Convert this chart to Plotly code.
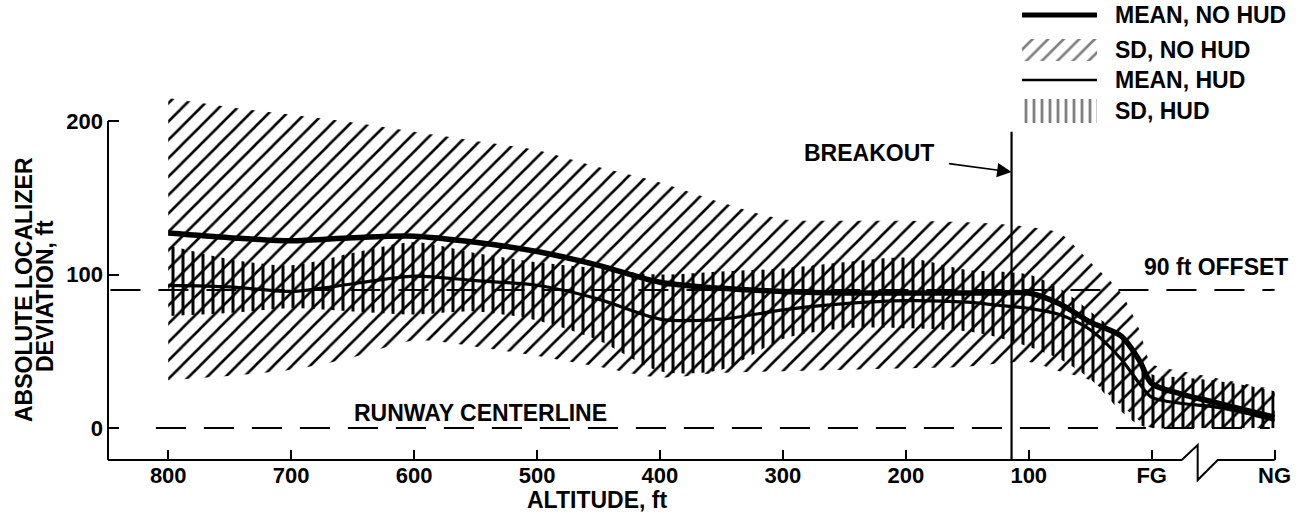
import plotly.graph_objects as go

# ---------------- data ----------------
ALT = [800, 750, 700, 650, 600, 550, 500, 450, 400, 350, 300, 250, 200,
       150, 125, 100, 75, 50, 25, 10, 0, -25, -50, -75, -100]
NOHUD_MEAN = [127, 124, 122, 124, 125, 121, 115, 106, 95, 91, 89, 88, 88,
              88, 88, 88, 81, 69, 60, 44, 29, 22, 17, 12, 7]
NOHUD_SD_HI = [215, 209, 204, 199, 193, 187, 181, 170, 160, 147, 136, 135, 135,
               134, 133, 131, 127, 108, 88, 64, 42, 37, 33, 29, 25]
NOHUD_SD_LO = [31, 34, 38, 46, 57, 53, 47, 40, 33, 36, 37, 38, 39,
               40, 42, 43, 37, 31, 15, 5, 0, 0, 0, 0, 0]
HUD_MEAN = [93, 92, 89, 94, 99, 96, 93, 84, 71, 71, 77, 81, 83,
            82, 80, 78, 74, 64, 45, 29, 20, 16, 14, 10, 5]
HUD_SD_HI = [119, 110, 106, 114, 121, 114, 108, 104, 100, 102, 104, 108, 111,
             103, 102, 100, 91, 76, 60, 45, 35, 33, 31, 28, 24]
HUD_SD_LO = [73, 75, 78, 76, 74, 76, 70, 57, 37, 38, 58, 65, 65,
             63, 59, 53, 45, 32, 11, 2, 0, 0, 0, 0, 0]

X_TICK_VALS = [800, 700, 600, 500, 400, 300, 200, 100, 0, -100]
X_TICK_TEXT = ["800", "700", "600", "500", "400", "300", "200", "100", "FG", "NG"]
Y_TICK_VALS = [0, 100, 200]

BREAKOUT_ALT = 114
OFFSET_FT = 90
CENTERLINE_FT = 0

# ---------------- layout geometry ----------------
W, H = 1309, 518
ML, MR, MT, MB = 108, 27, 0, 58
PLOT_W = W - ML - MR
PLOT_H = H - MT - MB
MAIN_TOP_PX = 90
MAIN_DOM_TOP = (PLOT_H - (MAIN_TOP_PX - MT)) / PLOT_H
X_RANGE = [849, -106]
Y_RANGE = [-20.8, 220.2]


def px(xp):
    return (xp - ML) / PLOT_W


def py(yp):
    return (PLOT_H - (yp - MT)) / PLOT_H


FAMILY = "Liberation Sans, Arial, sans-serif"
FONT = dict(family=FAMILY, size=22, color="black", weight="bold")
AFONT = dict(family=FAMILY, size=23, color="black", weight="bold")
CLEAR = "rgba(0,0,0,0)"

DIAG = dict(shape="/", size=13, solidity=0.2, fgcolor="black",
            bgcolor=CLEAR, fgopacity=1)
VERT = dict(shape="|", size=10, solidity=0.3, fgcolor="black",
            bgcolor=CLEAR, fgopacity=1)

fig = go.Figure()

# no-HUD SD band
fig.add_trace(go.Scatter(x=ALT, y=NOHUD_SD_LO, mode="lines",
                         line=dict(width=0, shape="spline", smoothing=0.8),
                         hoverinfo="skip", showlegend=False))
fig.add_trace(go.Scatter(x=ALT, y=NOHUD_SD_HI, mode="lines",
                         line=dict(width=0, shape="spline", smoothing=0.8),
                         fill="tonexty", fillcolor=CLEAR, fillpattern=DIAG,
                         name="SD, NO HUD", showlegend=False))
# HUD SD band
fig.add_trace(go.Scatter(x=ALT, y=HUD_SD_LO, mode="lines",
                         line=dict(width=0, shape="spline", smoothing=0.8),
                         hoverinfo="skip", showlegend=False))
fig.add_trace(go.Scatter(x=ALT, y=HUD_SD_HI, mode="lines",
                         line=dict(width=0, shape="spline", smoothing=0.8),
                         fill="tonexty", fillcolor=CLEAR, fillpattern=VERT,
                         name="SD, HUD", showlegend=False))
# means
fig.add_trace(go.Scatter(x=ALT, y=NOHUD_MEAN, mode="lines",
                         line=dict(width=5.5, color="black", shape="spline",
                                   smoothing=0.8),
                         name="MEAN, NO HUD", showlegend=False))
fig.add_trace(go.Scatter(x=ALT, y=HUD_MEAN, mode="lines",
                         line=dict(width=3.2, color="black", shape="spline",
                                   smoothing=0.8),
                         name="MEAN, HUD", showlegend=False))

# ---------------- legend (mini axes) ----------------
LEG = [("MEAN, NO HUD", 15), ("SD, NO HUD", 50), ("MEAN, HUD", 80), ("SD, HUD", 111)]
fig.add_trace(go.Scatter(x=[0, 1], y=[LEG[0][1]] * 2, mode="lines",
                         line=dict(width=5, color="black"),
                         xaxis="x2", yaxis="y2", showlegend=False, hoverinfo="skip"))
fig.add_trace(go.Scatter(x=[0, 1, 1, 0, 0],
                         y=[LEG[1][1] - 11, LEG[1][1] - 11, LEG[1][1] + 11,
                            LEG[1][1] + 11, LEG[1][1] - 11],
                         mode="lines", line=dict(width=0), fill="toself",
                         fillcolor=CLEAR,
                         fillpattern=dict(shape="/", size=11, solidity=0.24,
                                          fgcolor="black", bgcolor=CLEAR),
                         xaxis="x2", yaxis="y2", showlegend=False, hoverinfo="skip"))
fig.add_trace(go.Scatter(x=[0, 1], y=[LEG[2][1]] * 2, mode="lines",
                         line=dict(width=2.5, color="black"),
                         xaxis="x2", yaxis="y2", showlegend=False, hoverinfo="skip"))
fig.add_trace(go.Scatter(x=[0, 1, 1, 0, 0],
                         y=[LEG[3][1] - 12, LEG[3][1] - 12, LEG[3][1] + 12,
                            LEG[3][1] + 12, LEG[3][1] - 12],
                         mode="lines", line=dict(width=0), fill="toself",
                         fillcolor=CLEAR,
                         fillpattern=dict(shape="|", size=8, solidity=0.35,
                                          fgcolor="black", bgcolor=CLEAR),
                         xaxis="x2", yaxis="y2", showlegend=False, hoverinfo="skip"))

annotations = []
for label, yy in LEG:
    annotations.append(dict(text=label, x=px(1113), y=py(yy), xref="paper",
                            yref="paper", xanchor="left", yanchor="middle",
                            showarrow=False, font=AFONT))

# axis titles
annotations.append(dict(text="ABSOLUTE LOCALIZER", x=px(24), y=py(290),
                        xref="paper", yref="paper", textangle=-90,
                        xanchor="center", yanchor="middle",
                        showarrow=False, font=AFONT))
annotations.append(dict(text="DEVIATION, ft", x=px(45), y=py(296),
                        xref="paper", yref="paper", textangle=-90,
                        xanchor="center", yanchor="middle",
                        showarrow=False, font=AFONT))
annotations.append(dict(text="ALTITUDE, ft", x=px(597), y=py(500),
                        xref="paper", yref="paper", xanchor="center",
                        yanchor="middle", showarrow=False, font=AFONT))

# in-plot labels
annotations.append(dict(text="BREAKOUT", x=BREAKOUT_ALT, y=166.8, xref="x",
                        yref="y", ax=-143, ay=-19, showarrow=True,
                        arrowhead=2, arrowsize=1.8, arrowwidth=1.6,
                        arrowcolor="black", startstandoff=14, font=AFONT))
annotations.append(dict(text="RUNWAY CENTERLINE", x=546, y=CENTERLINE_FT,
                        xref="x", yref="y", yshift=15, showarrow=False,
                        xanchor="center", yanchor="middle", font=AFONT))
annotations.append(dict(text="90 ft OFFSET", x=8, y=OFFSET_FT, xref="x",
                        yref="y", xanchor="left", yanchor="middle", yshift=23,
                        showarrow=False, font=AFONT))

shapes = [
    # y axis line
    dict(type="line", xref="paper", yref="y", x0=0, x1=0,
         y0=Y_RANGE[0], y1=200, line=dict(color="black", width=2)),
    # x axis line with break
    dict(type="path", xref="x", yref="paper", ysizemode="pixel", yanchor=0,
         path="M 849,0 L -24.4,0 L -37.4,15 L -37.4,-20 L -53.7,0 L -100,0",
         line=dict(color="black", width=2)),
    # breakout line
    dict(type="line", xref="x", yref="y", x0=BREAKOUT_ALT, x1=BREAKOUT_ALT,
         y0=Y_RANGE[0], y1=193, line=dict(color="black", width=2.2)),
    # runway centerline
    dict(type="line", xref="x", yref="y", x0=810, x1=-96,
         y0=CENTERLINE_FT, y1=CENTERLINE_FT, layer="below",
         line=dict(color="black", width=2, dash="30px,18px")),
    # 90 ft offset
    dict(type="line", xref="x", yref="y", x0=847, x1=-100,
         y0=OFFSET_FT, y1=OFFSET_FT, layer="below",
         line=dict(color="black", width=2, dash="30px,18px")),
]

fig.update_layout(
    width=W, height=H,
    margin=dict(l=ML, r=MR, t=MT, b=MB, pad=0),
    paper_bgcolor="white", plot_bgcolor="white",
    showlegend=False,
    font=FONT,
    xaxis=dict(range=X_RANGE, domain=[0, 1], tickvals=X_TICK_VALS,
               ticktext=X_TICK_TEXT, ticks="inside", ticklen=10, tickwidth=2,
               tickcolor="black", showline=False, showgrid=False,
               zeroline=False, tickfont=FONT, anchor="y", fixedrange=True),
    yaxis=dict(range=Y_RANGE, domain=[0, MAIN_DOM_TOP], tickvals=Y_TICK_VALS,
               ticks="inside", ticklen=11, tickwidth=2, tickcolor="black",
               showline=False, showgrid=False, zeroline=False, tickfont=FONT,
               ticklabelstandoff=4, anchor="x", fixedrange=True),
    xaxis2=dict(domain=[px(1022), px(1097)], range=[0, 1], visible=False,
                anchor="y2", fixedrange=True),
    yaxis2=dict(domain=[py(125), py(3)], range=[125, 3], visible=False,
                anchor="x2", fixedrange=True),
    annotations=annotations,
    shapes=shapes,
)

fig.write_html(
    "out.html",
    config={"displayModeBar": False},
    post_script="document.body.style.margin='0';document.body.style.padding='0';",
)
